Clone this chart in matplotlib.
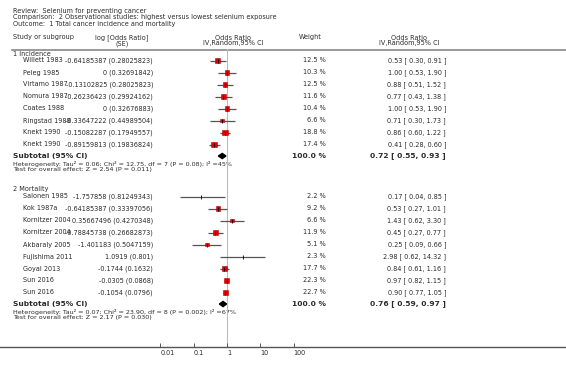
import numpy as np
import matplotlib
matplotlib.use("Agg")
import matplotlib.pyplot as plt
from matplotlib.patches import Polygon
from matplotlib.ticker import NullLocator

# ---- data ----
inc_studies = ["Willett 1983", "Peleg 1985", "Virtamo 1987", "Nomura 1987",
               "Coates 1988", "Ringstad 1988", "Knekt 1990", "Knekt 1990"]
inc_logor = ["-0.64185387", "0", "-0.13102825", "-0.26236423",
             "0", "-0.33647222", "-0.15082287", "-0.89159813"]
inc_se = ["0.28025823", "0.32691842", "0.28025823", "0.29924162",
          "0.32676883", "0.44989504", "0.17949557", "0.19836824"]
inc_weight = [12.5, 10.3, 12.5, 11.6, 10.4, 6.6, 18.8, 17.4]
inc_or = [0.53, 1.00, 0.88, 0.77, 1.00, 0.71, 0.86, 0.41]
inc_lo = [0.30, 0.53, 0.51, 0.43, 0.53, 0.30, 0.60, 0.28]
inc_hi = [0.91, 1.90, 1.52, 1.38, 1.90, 1.73, 1.22, 0.60]
inc_total = (0.72, 0.55, 0.93)
inc_het = "Heterogeneity: Tau\u00b2 = 0.06; Chi\u00b2 = 12.75, df = 7 (P = 0.08); I\u00b2 =45%"
inc_test = "Test for overall effect: Z = 2.54 (P = 0.011)"

mort_studies = ["Salonen 1985", "Kok 1987a", "Kornitzer 2004", "Kornitzer 2004",
                "Akbaraly 2005", "Fujishima 2011", "Goyal 2013", "Sun 2016", "Sun 2016"]
mort_logor = ["-1.757858", "-0.64185387", "0.35667496", "-0.78845738",
              "-1.401183", "1.0919", "-0.1744", "-0.0305", "-0.1054"]
mort_se = ["0.81249343", "0.33397056", "0.4270348", "0.26682873",
           "0.5047159", "0.801", "0.1632", "0.0868", "0.0796"]
mort_weight = [2.2, 9.2, 6.6, 11.9, 5.1, 2.3, 17.7, 22.3, 22.7]
mort_or = [0.17, 0.53, 1.43, 0.45, 0.25, 2.98, 0.84, 0.97, 0.90]
mort_lo = [0.04, 0.27, 0.62, 0.27, 0.09, 0.62, 0.61, 0.82, 0.77]
mort_hi = [0.85, 1.01, 3.30, 0.77, 0.66, 14.32, 1.16, 1.15, 1.05]
mort_total = (0.76, 0.59, 0.97)
mort_het = "Heterogeneity: Tau\u00b2 = 0.07; Chi\u00b2 = 23.90, df = 8 (P = 0.002); I\u00b2 =67%"
mort_test = "Test for overall effect: Z = 2.17 (P = 0.030)"

tick_vals = [0.01, 0.1, 1, 10, 100]
tick_labels = ["0.01", "0.1", "1", "10", "100"]

# ---- layout (pixels) ----
W, H = 566, 377
X_ONE, DECADE = 227, 33.3
Y_AXIS, Y_TOP = 347, 49
FS = 4.7
TXT = "#2a2a2a"

fig = plt.figure(figsize=(W / 100, H / 100), dpi=100)
ax_t = fig.add_axes([0, 0, 1, 1])
ax_t.set_xlim(0, W)
ax_t.set_ylim(H, 0)
ax_t.axis("off")

ax = fig.add_axes([0, (H - Y_AXIS) / H, 1, (Y_AXIS - Y_TOP) / H])
ax.patch.set_alpha(0)
ax.set_xscale("log")
ax.set_xlim(10 ** (-X_ONE / DECADE), 10 ** ((W - X_ONE) / DECADE))
ax.set_ylim(Y_AXIS, Y_TOP)
for s in ["top", "left", "right"]:
    ax.spines[s].set_visible(False)
ax.spines["bottom"].set_color("#555555")
ax.spines["bottom"].set_linewidth(1.0)
ax.set_yticks([])
ax.set_xticks(tick_vals)
ax.set_xticklabels(tick_labels)
ax.xaxis.set_minor_locator(NullLocator())
ax.tick_params(axis="x", direction="in", length=3, width=0.7, pad=2.5,
               labelsize=FS, colors="#555555", labelcolor=TXT)
for lbl in ax.get_xticklabels():
    lbl.set_horizontalalignment("left")
ax.axvline(1, color="#bbbbbb", lw=0.8, zorder=0)


def txt(x, y, s, ha="left", bold=False, size=FS):
    ax_t.text(x, y, s, ha=ha, va="center", fontsize=size, color=TXT,
              fontweight="bold" if bold else "normal", family="DejaVu Sans")


# title block
txt(13, 11, "Review:  Selenium for preventing cancer")
txt(13, 17.5, "Comparison:  2 Observational studies: highest versus lowest selenium exposure")
txt(13, 24, "Outcome:  1 Total cancer incidence and mortality")

# column headers
txt(13, 37.5, "Study or subgroup")
txt(122, 37.5, "log [Odds Ratio]", ha="center")
txt(122, 43.5, "(SE)", ha="center")
txt(233, 37.5, "Odds Ratio", ha="center")
txt(233, 43.5, "IV,Random,95% CI", ha="center")
txt(310, 37.5, "Weight", ha="center")
txt(409, 37.5, "Odds Ratio", ha="center")
txt(409, 43.5, "IV,Random,95% CI", ha="center")
ax_t.plot([12, W], [49.5, 49.5], color="#888888", lw=1.2)


def group(title, y0, studies, logor, se, weight, est, lo, hi, total, het, test):
    txt(13, y0 - 7, title)
    ys = y0 + 12 * np.arange(len(studies))
    for y, name, lg, s, w, e, l, h in zip(ys, studies, logor, se, weight, est, lo, hi):
        txt(23, y, name)
        txt(153, y, f"{lg} ({s})", ha="right")
        txt(326, y, f"{w:.1f} %", ha="right")
        txt(446, y, f"{e:.2f} [ {l:.2f}, {h:.2f} ]", ha="right")
    ax.hlines(ys, lo, hi, color="#555555", lw=0.9, zorder=2)
    w = np.array(weight)
    side_pt = (1.5 + 0.9 * np.sqrt(w)) * 0.72
    big = w > 3
    ax.scatter(np.array(est)[big], ys[big], marker="s", s=side_pt[big] ** 2,
               facecolor="#e00000", edgecolor="#c00000", lw=0.4, zorder=3)
    ax.scatter(est, ys, marker="|", s=6, color="black", lw=0.6, zorder=4)

    ysub = ys[-1] + 11.5
    txt(13, ysub, "Subtotal (95% CI)", bold=True, size=FS + 0.7)
    txt(326, ysub, "100.0 %", ha="right", bold=True, size=FS + 0.7)
    te, tl, th = total
    txt(446, ysub, f"{te:.2f} [ {tl:.2f}, {th:.2f} ]", ha="right", bold=True, size=FS + 0.7)
    ax.add_patch(Polygon([[tl, ysub], [te, ysub - 2.6], [th, ysub], [te, ysub + 2.6]],
                         closed=True, color="black", zorder=4))
    txt(13, ysub + 7.7, het, size=FS - 0.1)
    txt(13, ysub + 13.7, test, size=FS - 0.1)


group("1 Incidence", 60.5, inc_studies, inc_logor, inc_se, inc_weight,
      inc_or, inc_lo, inc_hi, inc_total, inc_het, inc_test)
group("2 Mortality", 196.5, mort_studies, mort_logor, mort_se, mort_weight,
      mort_or, mort_lo, mort_hi, mort_total, mort_het, mort_test)

fig.savefig("out.png", dpi=100)
